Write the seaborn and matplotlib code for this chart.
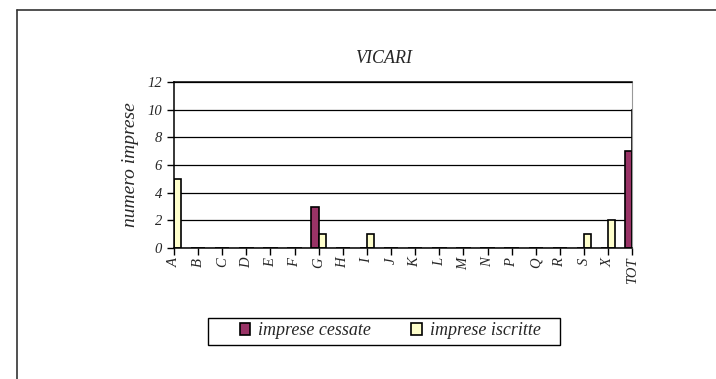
import pandas as pd
import matplotlib.pyplot as plt
import seaborn as sns
from matplotlib.lines import Line2D
from matplotlib.patches import Rectangle

categorie = ['A', 'B', 'C', 'D', 'E', 'F', 'G', 'H', 'I', 'J', 'K', 'L', 'M', 'N', 'P', 'Q', 'R', 'S', 'X', 'TOT']
cessate = [0, 0, 0, 0, 0, 0, 3, 0, 0, 0, 0, 0, 0, 0, 0, 0, 0, 0, 0, 7]
iscritte = [5, 0, 0, 0, 0, 0, 1, 0, 1, 0, 0, 0, 0, 0, 0, 0, 0, 1, 2, 10]
serie = ['imprese cessate', 'imprese iscritte']

df = pd.DataFrame({
    'settore': categorie * 2,
    'valore': cessate + iscritte,
    'serie': [serie[0]] * len(categorie) + [serie[1]] * len(categorie),
})

sns.set_style('white')
plt.rcParams['font.family'] = ['Liberation Serif', 'DejaVu Serif']
plt.rcParams['font.style'] = 'italic'

fig = plt.figure(figsize=(7.16, 3.79), dpi=100)
ax = fig.add_axes([0.243, 0.3456, 0.64, 0.438])

sns.barplot(data=df, x='settore', y='valore', hue='serie', order=categorie,
            palette=['#993366', '#FFFFCC'], width=0.6, edgecolor='black',
            linewidth=1.2, saturation=1, ax=ax, legend=True)

ax.set_xlim(0, len(categorie) - 1)
ax.set_ylim(0, 12)
ax.set_yticks(range(0, 13, 2))
ax.yaxis.grid(True, color='black', linewidth=0.9)
ax.set_axisbelow(True)
ax.tick_params(axis='both', direction='out', length=5, width=1, color='black',
               labelsize=10.5, bottom=True, left=True)
ax.tick_params(axis='x', rotation=90, pad=2)
for lab in ax.get_xticklabels() + ax.get_yticklabels():
    lab.set_fontstyle('italic')

for s in ['left', 'bottom', 'top']:
    ax.spines[s].set_color('black')
    ax.spines[s].set_linewidth(1.1)
ax.spines['right'].set_color('#999999')
ax.spines['right'].set_linewidth(0.8)

ax.set_xlabel('')
ax.set_ylabel('numero imprese', fontsize=14, fontstyle='italic', labelpad=6)
fig.text(0.536, 0.845, 'VICARI', ha='center', va='center', fontsize=13, fontstyle='italic')

leg = ax.legend(loc='center', bbox_to_anchor=(0.545, 0.127), bbox_transform=fig.transFigure,
                ncol=2, frameon=False, handlelength=0.6, handleheight=0.6,
                columnspacing=2.2, borderpad=0, borderaxespad=0, handletextpad=0.45,
                prop={'style': 'italic', 'size': 13})
for h in leg.legend_handles:
    h.set_edgecolor('black')

# cornice della legenda
fig.add_artist(Rectangle((208 / 716, 1 - 345 / 379), 352 / 716, 27 / 379,
                         transform=fig.transFigure, fill=False, edgecolor='black', linewidth=1))

# cornice esterna del grafico
fig.add_artist(Line2D([17 / 716, 1], [1 - 10 / 379, 1 - 10 / 379], color='#333333', linewidth=1.2))
fig.add_artist(Line2D([17 / 716, 17 / 716], [0, 1 - 10 / 379], color='#333333', linewidth=1.2))

fig.savefig('out.png', dpi=100)
